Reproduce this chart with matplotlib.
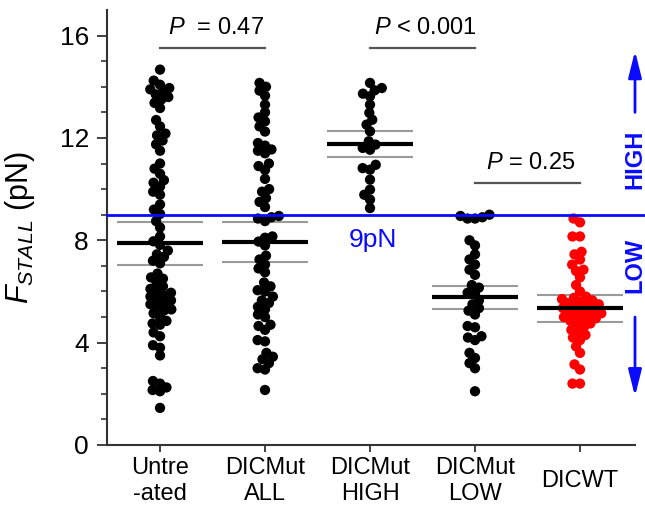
import numpy as np
import matplotlib
matplotlib.use('Agg')
import matplotlib.pyplot as plt
from matplotlib.transforms import blended_transform_factory

plt.rcParams['font.family'] = ['Liberation Sans', 'DejaVu Sans']
plt.rcParams['mathtext.fontset'] = 'custom'
plt.rcParams['mathtext.rm'] = 'Liberation Sans'
plt.rcParams['mathtext.it'] = 'Liberation Sans:italic'

# stall forces (pN)
groups = ['Untre\n-ated', 'DICMut\nALL', 'DICMut\nHIGH', 'DICMut\nLOW', 'DICWT']
untreated = [14.67, 14.24, 14.08, 13.95, 13.9, 13.8, 13.7, 13.6, 13.5, 13.37, 13.17, 12.7,
             12.45, 12.17, 12.1, 11.9, 11.75, 11.5, 11.0, 10.8, 10.6, 10.35, 10.25, 10.1,
             9.9, 9.78, 9.4, 9.2, 9.03, 8.75, 8.5, 8.15, 7.96, 7.82, 7.6, 7.45, 7.35, 7.2,
             7.1, 6.7, 6.55, 6.5, 6.35, 6.2, 6.1, 6.0, 5.95, 5.85, 5.8, 5.7, 5.65, 5.55,
             5.5, 5.4, 5.3, 5.25, 5.15, 5.0, 4.85, 4.75, 4.7, 4.4, 4.25, 3.9, 3.8, 3.5,
             2.5, 2.4, 2.25, 2.15, 2.1, 1.45]
mut_all = [14.15, 14.0, 13.85, 13.65, 13.3, 13.0, 12.8, 12.65, 12.45, 12.25, 11.8, 11.7,
           11.55, 11.5, 11.4, 11.0, 10.9, 10.75, 10.4, 10.0, 9.9, 9.65, 9.5, 9.3, 8.95,
           8.9, 8.85, 8.75, 8.15, 8.1, 7.95, 7.8, 7.4, 7.25, 7.05, 6.9, 6.75, 6.35, 6.2,
           6.05, 6.0, 5.8, 5.65, 5.55, 5.4, 5.3, 5.1, 5.0, 4.7, 4.65, 4.5, 4.1, 4.05, 3.6,
           3.45, 3.35, 3.2, 3.0, 2.95, 2.15]
mut_high = [14.15, 13.95, 13.86, 13.73, 13.63, 13.3, 12.98, 12.71, 12.52, 12.26, 11.87,
            11.74, 11.61, 11.54, 10.95, 10.82, 10.76, 10.37, 9.98, 9.78, 9.59, 9.26]
mut_low = [9.0, 8.95, 8.9, 8.85, 8.85, 8.0, 7.8, 7.45, 7.25, 7.05, 6.85, 6.65, 6.25, 6.15,
           5.95, 5.9, 5.65, 5.5, 5.35, 5.25, 5.1, 4.65, 4.6, 4.25, 4.2, 4.1, 3.6, 3.4,
           3.2, 3.0, 2.1]
wt = [8.85, 8.7, 8.15, 8.15, 7.55, 7.45, 7.25, 7.05, 6.85, 6.8, 6.55, 6.25, 6.0, 5.8,
      5.75, 5.7, 5.65, 5.6, 5.55, 5.5, 5.45, 5.4, 5.35, 5.3, 5.25, 5.2, 5.15, 5.1, 5.05,
      5.0, 4.95, 4.9, 4.85, 4.75, 4.7, 4.6, 4.5, 4.4, 4.3, 4.2, 4.1, 3.85, 3.6, 3.15,
      2.95, 2.4, 2.4]
data = [untreated, mut_all, mut_high, mut_low, wt]
dot_colors = ['black', 'black', 'black', 'black', '#ff0000']

means = [7.9, 7.94, 11.78, 5.79, 5.36]
err_hi = [8.7, 8.72, 12.28, 6.22, 5.87]
err_lo = [7.04, 7.16, 11.27, 5.32, 4.81]

p_pairs = [(0, 1), (2, 3), (3, 4)]
p_labels = ['$P$  = 0.47', '$P$ < 0.001', '$P$ = 0.25']
p_heights = [15.5, 15.5, 10.25]
threshold = 9


def swarm(values, d, sx, sy):
    # simple beeswarm: put each point as close to the centre as it fits
    vals = np.asarray(values)
    offs = np.zeros(len(vals))
    placed = []
    for i in np.argsort(vals):
        y = vals[i] * sy
        spans = []
        for xp, yp in placed:
            dy = abs(y - yp)
            if dy < d:
                w = np.sqrt(d * d - dy * dy)
                spans.append((xp - w, xp + w))
        cands = [0.0] + [a for a, b in spans] + [b for a, b in spans]
        cands.sort(key=abs)
        x = 0.0
        for c in cands:
            if all(not (a + 1e-6 < c < b - 1e-6) for a, b in spans):
                x = c
                break
        placed.append((x, y))
        offs[i] = x / sx
    return offs


fig = plt.figure(figsize=(6.45, 5.17), dpi=100)
ax = fig.add_axes([107 / 645, 1 - 445 / 517, 528 / 645, 435 / 517])
ax.set_xlim(0.495, 5.524)
ax.set_ylim(0, 17)

# pixels per data unit
sx = 528 / (5.524 - 0.495)
sy = 435 / 17.0

for i, vals in enumerate(data):
    xpos = i + 1
    offs = swarm(vals, 7.5, sx, sy)
    ax.scatter(xpos + offs, vals, s=55, color=dot_colors[i], edgecolors='none', zorder=3)
    ax.hlines([err_hi[i], err_lo[i]], xpos - 0.41, xpos + 0.41, color='#9a9a9a', lw=1.5, zorder=2)
    ax.hlines(means[i], xpos - 0.41, xpos + 0.41, color='black', lw=3, zorder=4)

# p-value brackets
for (a, b), lab, h in zip(p_pairs, p_labels, p_heights):
    ax.plot([a + 1, b + 1], [h, h], color='#555555', lw=1.6)
    ax.text((a + b) / 2 + 1.03, h + 0.55, lab, ha='center', va='baseline', fontsize=17)

# 9 pN threshold + HIGH / LOW markers
trans = blended_transform_factory(ax.transAxes, ax.transData)
ax.plot([0, 1.03], [threshold, threshold], color='#0a0aff', lw=2, transform=trans,
        clip_on=False, zorder=5)
ax.text(3.03, 8.0, '9pN', color='#0a0aff', fontsize=19, ha='center', va='center')
arrow = dict(arrowstyle='-|>,head_length=1.0,head_width=0.25', color='#0a0aff', lw=2,
             mutation_scale=16, shrinkA=0, shrinkB=0)
ax.annotate('', xy=(1.0, 15.4), xytext=(1.0, 13.0), xycoords=trans, textcoords=trans,
            arrowprops=arrow, annotation_clip=False)
ax.annotate('', xy=(1.0, 1.9), xytext=(1.0, 5.0), xycoords=trans, textcoords=trans,
            arrowprops=arrow, annotation_clip=False)
ax.text(1.0, 11.15, 'HIGH', transform=trans, rotation=90, ha='center', va='center',
        color='#0a0aff', fontsize=17, fontweight='bold', clip_on=False)
ax.text(1.0, 7.0, 'LOW', transform=trans, rotation=90, ha='center', va='center',
        color='#0a0aff', fontsize=17, fontweight='bold', clip_on=False)

# axes styling
for side in ['top', 'right']:
    ax.spines[side].set_visible(False)
for side in ['left', 'bottom']:
    ax.spines[side].set_linewidth(1.5)
    ax.spines[side].set_color('#333333')

ax.set_yticks([0, 4, 8, 12, 16])
ax.set_yticks(np.arange(0, 17, 1), minor=True)
ax.tick_params(axis='y', which='major', length=7, width=1.3, labelsize=19, pad=6,
               color='#333333')
ax.tick_params(axis='y', which='minor', length=4.3, width=1.2, color='#333333')
ax.set_xticks(range(1, 6))
ax.set_xticklabels(groups)
ax.tick_params(axis='x', length=5, width=1.3, labelsize=17, pad=21, color='#333333')
for lbl in ax.get_xticklabels():
    lbl.set_va('center')

ax.set_ylabel('$F_{STALL}$ (pN)', fontsize=22)
ax.yaxis.set_label_coords(-0.133, 0.5)

fig.savefig('out.png', dpi=100)
